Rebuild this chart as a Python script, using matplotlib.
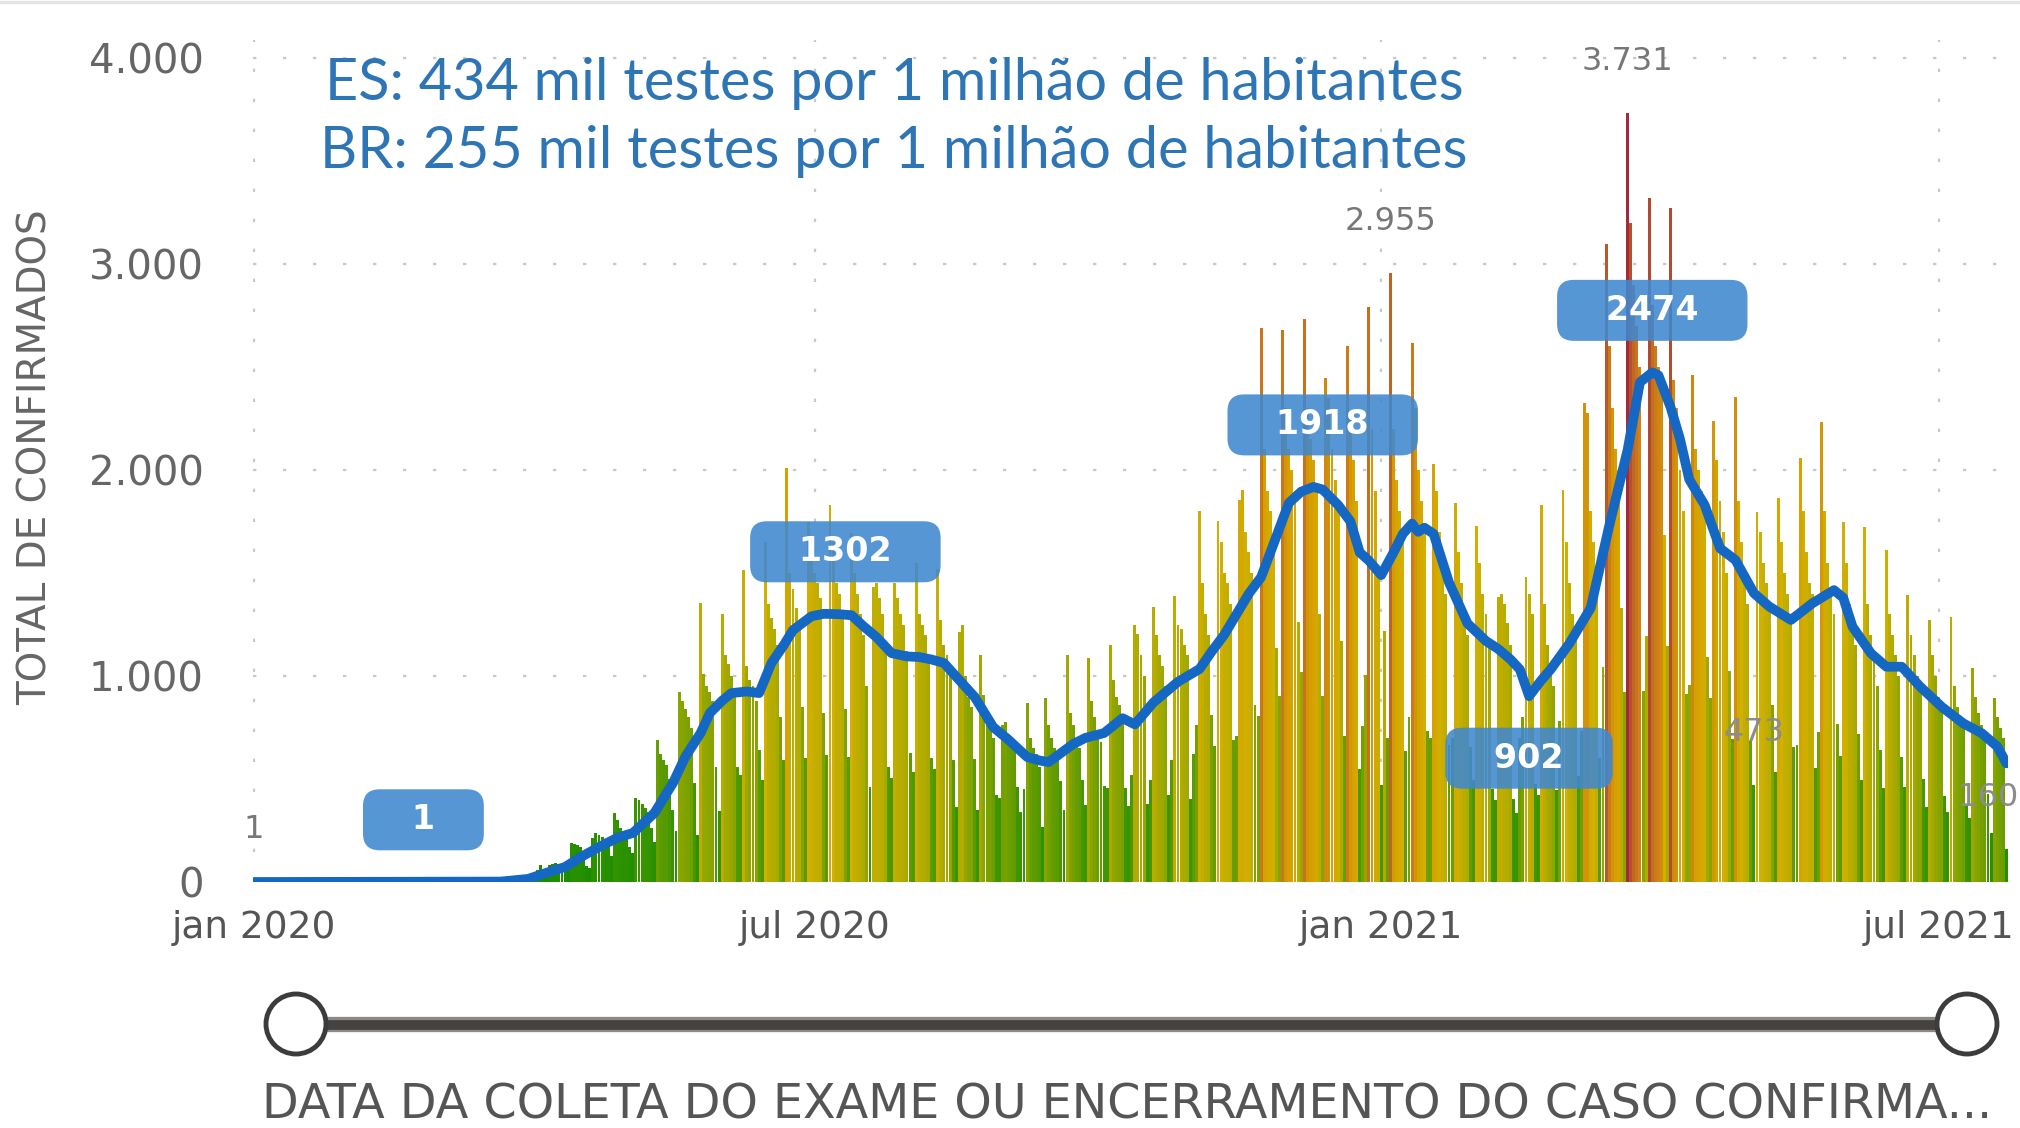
import numpy as np
import pandas as pd
import matplotlib
matplotlib.use("Agg")
import matplotlib.pyplot as plt
from matplotlib.colors import LinearSegmentedColormap, Normalize
from matplotlib.patches import Circle

# casos confirmados por dia (ES), 01/jan/2020 .. 23/jul/2021
jan_feb_2020 = [1] + [0] * 60          # 01/jan .. 01/mar
weekly_cases = [                        # seg..dom, a partir de 02/mar/2020
    [0, 0, 0, 1, 0, 2, 0],
    [1, 2, 3, 2, 4, 2, 0],
    [3, 5, 4, 6, 5, 3, 2],
    [8, 12, 14, 16, 15, 10, 9],
    [20, 30, 45, 60, 82, 50, 28],
    [82, 85, 90, 88, 80, 70, 65],
    [190, 185, 180, 170, 140, 80, 70],
    [213, 240, 230, 220, 200, 170, 127],
    [335, 300, 260, 240, 220, 170, 141],
    [410, 400, 380, 360, 340, 260, 195],
    [690, 620, 590, 570, 500, 350, 250],
    [920, 880, 840, 800, 750, 480, 230],
    [1354, 1010, 950, 920, 880, 560, 346],
    [1300, 1100, 1060, 1000, 900, 560, 520],
    [1514, 1050, 980, 950, 880, 640, 496],
    [1650, 1350, 1280, 1230, 1150, 800, 590],
    [2010, 1500, 1420, 1330, 1250, 850, 600],
    [1750, 1600, 1500, 1450, 1380, 818, 616],
    [1830, 1650, 1450, 1400, 1300, 840, 607],
    [1694, 1500, 1400, 1300, 1200, 950, 461],
    [1432, 1450, 1380, 1300, 1150, 560, 505],
    [1450, 1380, 1300, 1250, 1120, 624, 534],
    [1548, 1300, 1250, 1200, 1100, 600, 548],
    [1520, 1272, 1150, 1100, 1000, 594, 364],
    [1214, 1247, 1000, 900, 850, 599, 350],
    [1100, 908, 796, 780, 700, 420, 406],
    [762, 777, 720, 700, 650, 460, 341],
    [450, 869, 700, 650, 620, 560, 267],
    [893, 760, 700, 650, 600, 492, 350],
    [1102, 820, 760, 700, 650, 494, 374],
    [1087, 880, 800, 740, 680, 467, 456],
    [1150, 980, 900, 860, 780, 454, 371],
    [520, 1250, 1205, 1100, 1000, 380, 495],
    [1337, 1200, 1100, 1050, 950, 420, 593],
    [1387, 1250, 1229, 1150, 1100, 404, 620],
    [760, 1801, 1450, 1300, 1200, 810, 659],
    [1751, 1650, 1500, 1450, 1350, 689, 710],
    [1852, 1903, 1700, 1600, 1500, 857, 808],
    [2691, 2100, 1900, 1800, 1650, 1137, 902],
    [2681, 2300, 2100, 2000, 1900, 1263, 1021],
    [2732, 2300, 2150, 2050, 1900, 1300, 903],
    [2448, 2350, 2100, 1950, 1800, 1172, 710],
    [2600, 2250, 2050, 1850, 550, 755, 1005],
    [2793, 2200, 1900, 1500, 470, 1217, 700],
    [2955, 2200, 1950, 1800, 1700, 635, 800],     # 04/jan/2021
    [2615, 2300, 2000, 1850, 1700, 735, 700],
    [2027, 1900, 1700, 1550, 1400, 663, 700],
    [1841, 1600, 1450, 1300, 1200, 653, 496],
    [1728, 1550, 1400, 1300, 1150, 452, 400],
    [1383, 1400, 1350, 1255, 1150, 405, 337],
    [700, 800, 1480, 1400, 1300, 478, 422],
    [1829, 1350, 1150, 1050, 950, 449, 782],
    [1902, 1650, 1450, 1300, 1200, 516, 732],
    [2326, 2276, 1800, 1650, 1500, 604, 1044],
    [3098, 2600, 2300, 2100, 2000, 1332, 920],
    [3731, 3197, 2900, 2700, 2500, 929, 1193],    # 22/mar/2021
    [3322, 2800, 2600, 2500, 2400, 1684, 1144],
    [3272, 2438, 2300, 2000, 1800, 911, 957],
    [2463, 2100, 2000, 1900, 1800, 1092, 895],
    [2239, 2050, 1850, 1700, 1500, 1025, 696],
    [2356, 1850, 1650, 1450, 1350, 685, 473],
    [1797, 1700, 1550, 1450, 1350, 858, 535],
    [1862, 1650, 1500, 1400, 1300, 654, 664],
    [2056, 1800, 1600, 1450, 1400, 554, 730],
    [2234, 1800, 1550, 1400, 1300, 766, 610],
    [1749, 1550, 1350, 1250, 1150, 717, 494],
    [1725, 1350, 1200, 1100, 950, 641, 454],
    [1611, 1300, 1200, 1100, 1000, 609, 460],
    [1393, 1200, 1100, 1000, 950, 501, 366],
    [1272, 1100, 1000, 900, 850, 418, 340],
    [1288, 950, 850, 800, 750, 370, 312],
    [1037, 900, 820, 760, 720, 426, 237],
]
last_week = [892, 800, 750, 700, 160]     # 19/jul .. 23/jul/2021

# media movel (linha azul)
avg_dates = ["2020-01-01", "2020-03-21", "2020-03-30", "2020-04-05", "2020-04-11", "2020-04-16",
             "2020-04-22", "2020-04-28", "2020-05-03", "2020-05-10", "2020-05-16", "2020-05-20",
             "2020-05-25", "2020-05-28", "2020-06-01", "2020-06-04", "2020-06-09", "2020-06-13",
             "2020-06-17", "2020-06-21", "2020-06-24", "2020-06-30", "2020-07-04", "2020-07-09",
             "2020-07-13", "2020-07-17", "2020-07-21", "2020-07-26", "2020-07-31", "2020-08-04",
             "2020-08-08", "2020-08-12", "2020-08-17", "2020-08-22", "2020-08-28", "2020-09-02",
             "2020-09-08", "2020-09-12", "2020-09-15", "2020-09-19", "2020-09-23", "2020-09-27",
             "2020-10-03", "2020-10-09", "2020-10-13", "2020-10-19", "2020-10-27", "2020-11-03",
             "2020-11-07", "2020-11-11", "2020-11-15", "2020-11-19", "2020-11-23", "2020-11-27",
             "2020-12-02", "2020-12-06", "2020-12-10", "2020-12-13", "2020-12-18", "2020-12-22",
             "2020-12-25", "2020-12-28", "2021-01-01", "2021-01-05", "2021-01-08", "2021-01-11",
             "2021-01-13", "2021-01-15", "2021-01-18", "2021-01-23", "2021-01-29", "2021-02-04",
             "2021-02-08", "2021-02-12", "2021-02-15", "2021-02-18", "2021-02-22", "2021-02-25",
             "2021-03-03", "2021-03-10", "2021-03-16", "2021-03-22", "2021-03-26", "2021-03-30",
             "2021-04-01", "2021-04-05", "2021-04-08", "2021-04-11", "2021-04-16", "2021-04-21",
             "2021-04-26", "2021-05-02", "2021-05-07", "2021-05-14", "2021-05-21", "2021-05-28",
             "2021-05-31", "2021-06-03", "2021-06-09", "2021-06-14", "2021-06-19", "2021-06-25",
             "2021-07-02", "2021-07-09", "2021-07-15", "2021-07-20", "2021-07-23"]
avg_values = [0, 2, 15, 45, 73, 120,
              170, 215, 238, 335, 480, 607,
              723, 820, 880, 917, 925, 917,
              1063, 1150, 1223, 1290, 1302, 1300,
              1295, 1240, 1190, 1111, 1095, 1092,
              1080, 1063, 980, 898, 752, 690,
              607, 590, 582, 626, 670, 700,
              723, 795, 765, 871, 972, 1034,
              1120, 1200, 1300, 1400, 1480, 1640,
              1840, 1895, 1918, 1905, 1830, 1750,
              1600, 1560, 1490, 1600, 1690, 1740,
              1700, 1720, 1690, 1454, 1255, 1170,
              1131, 1080, 1032, 902, 980, 1032,
              1156, 1330, 1728, 2098, 2426, 2474,
              2460, 2302, 2150, 1954, 1830, 1620,
              1563, 1402, 1337, 1272, 1353, 1417,
              1380, 1240, 1110, 1045, 1045, 948,
              850, 770, 722, 658, 576]

# rotulos da linha (caixas azuis)
avg_label_dates = ["2020-02-25", "2020-07-11", "2020-12-13", "2021-03-30", "2021-02-18"]
avg_label_values = [1, 1302, 1918, 2474, 902]
avg_label_side = [1, 1, 1, 1, -1]

# rotulos das colunas (cinza)
bar_label_dates = ["2020-01-01", "2021-01-04", "2021-03-22", "2021-05-02", "2021-07-23"]
bar_label_text = ["1", "2.955", "3.731", "473", "160"]

tick_dates = ["2020-01-01", "2020-07-01", "2021-01-01", "2021-07-01"]
tick_labels = ["jan 2020", "jul 2020", "jan 2021", "jul 2021"]
y_ticks = [0, 1000, 2000, 3000, 4000]
y_tick_labels = ["0", "1.000", "2.000", "3.000", "4.000"]

title_lines = ["ES: 434 mil testes por 1 milhão de habitantes",
               "BR: 255 mil testes por 1 milhão de habitantes"]

cases = jan_feb_2020 + [v for w in weekly_cases for v in w] + last_week
dates = pd.date_range("2020-01-01", periods=len(cases), freq="D")
cases = np.array(cases)

W, H = 2020, 1128
fig = plt.figure(figsize=(W / 100, H / 100), dpi=100)
ax = fig.add_axes([252.5 / W, 1 - 882 / H, (2008 - 252.5) / W, (882 - 40) / H])

cmap = LinearSegmentedColormap.from_list("pbi", [
    (0.0, "#178c00"), (0.12, "#3f9600"), (0.22, "#7ea200"), (0.32, "#b0ab00"),
    (0.45, "#d2b000"), (0.58, "#d69e00"), (0.72, "#c9761c"), (0.86, "#b4522c"),
    (1.0, "#a5283f")])
norm = Normalize(0, cases.max())

ax.bar(dates, cases, width=0.95, color=cmap(norm(cases)), linewidth=0, zorder=2)
ax.plot(pd.to_datetime(avg_dates), avg_values, color="#1467c2", lw=7, zorder=4,
        solid_joinstyle="round", solid_capstyle="round")

for d, v, s in zip(avg_label_dates, avg_label_values, avg_label_side):
    ax.annotate("   %d   " % v, xy=(pd.Timestamp(d), v), xytext=(0, 62 * s),
                textcoords="offset pixels", ha="center", va="center",
                fontsize=24, fontweight="bold", color="white", zorder=6,
                bbox=dict(boxstyle="round,pad=0.42,rounding_size=0.5",
                          fc="#3f88d0", ec="none", alpha=0.88))

for d, t in zip(bar_label_dates, bar_label_text):
    v = cases[dates.get_loc(pd.Timestamp(d))]
    dx = -18 if t == "160" else 0
    col = "#777777" if v > 2000 or v < 10 else "#8c8c8c"
    ax.annotate(t, xy=(pd.Timestamp(d), v), xytext=(dx, 52), textcoords="offset pixels",
                ha="center", va="center", fontsize=23, color=col, zorder=5)

ax.set_xlim(pd.Timestamp("2020-01-01") - pd.Timedelta(hours=12),
            pd.Timestamp("2021-07-23") + pd.Timedelta(hours=12))
ax.set_ylim(0, (882 - 40) * 4000 / 824)
ax.set_xticks(pd.to_datetime(tick_dates))
ax.set_xticklabels(tick_labels)
ax.set_yticks(y_ticks)
ax.set_yticklabels(y_tick_labels)
ax.tick_params(axis="y", length=0, labelsize=29, labelcolor="#666666", pad=35)
ax.tick_params(axis="x", length=0, labelsize=27, labelcolor="#555555", pad=20)
ax.grid(True, linestyle=(0, (1.5, 12)), color="#c8c8c8", lw=1.6)
ax.set_axisbelow(True)
for s in ax.spines.values():
    s.set_visible(False)
ax.patch.set_alpha(0)

fig.text(36 / W, 1 - 457 / H, "TOTAL DE CONFIRMADOS", rotation=90, ha="center",
         va="center", fontsize=28, color="#666666")
fig.text(894 / W, 1 - 83 / H, title_lines[0], ha="center", va="center",
         fontsize=41.5, color="#2e75b6", family=["Lato", "DejaVu Sans"])
fig.text(894 / W, 1 - 152 / H, title_lines[1], ha="center", va="center",
         fontsize=41.5, color="#2e75b6", family=["Lato", "DejaVu Sans"])

# slider e rotulo do eixo
deco = fig.add_axes([0, 0, 1, 1])
deco.set_xlim(0, W)
deco.set_ylim(H, 0)
deco.axis("off")
deco.patch.set_alpha(0)
deco.plot([0, W], [1.5, 1.5], color="#e4e4e4", lw=2.5)
deco.plot([296, 1967], [1024, 1024], color="#8a8a8a", lw=11, solid_capstyle="butt")
deco.plot([296, 1967], [1025, 1025], color="#45423f", lw=7, solid_capstyle="butt")
for cx in (296, 1967):
    deco.add_patch(Circle((cx, 1024), 30, fc="white", ec="#3c3c3c", lw=3.5, zorder=3))
deco.text(262, 1105, "DATA DA COLETA DO EXAME OU ENCERRAMENTO DO CASO CONFIRMA...",
          ha="left", va="center", fontsize=34.3, color="#555555")

fig.savefig("out.png", dpi=100)
